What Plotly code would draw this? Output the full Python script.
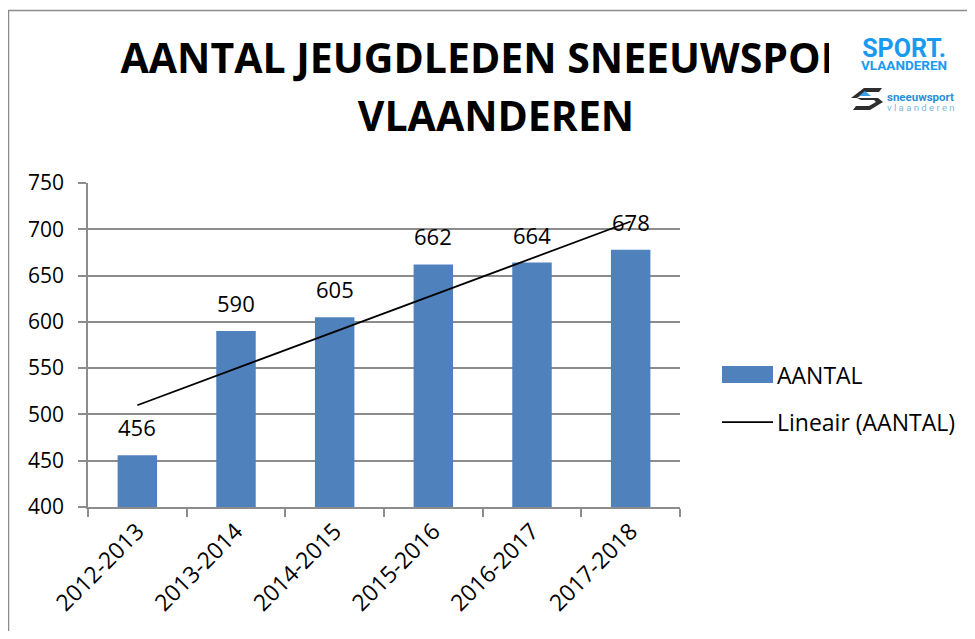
import numpy as np
import plotly.graph_objects as go

categories = ["2012-2013", "2013-2014", "2014-2015", "2015-2016", "2016-2017", "2017-2018"]
aantal = [456, 590, 605, 662, 664, 678]
y_ticks = [400, 450, 500, 550, 600, 650, 700, 750]
title_lines = ["AANTAL JEUGDLEDEN SNEEUWSPORT", "VLAANDEREN"]
legend_labels = ["AANTAL", "Lineair (AANTAL)"]

# page body has an 8px margin; all positions below are in reference-pixel coordinates
OFF = 8
W, H = 959, 623
L, R, T, B = 88, 680, 183, 507
FONT = "Open Sans"
BLUE = "#4F81BD"
GRAY = "#8C8C8C"

def px(x):
    return (x - OFF) / W

def py(y):
    return 1 - (y - OFF) / H

def poly(pts):
    return "M " + " L ".join("%f,%f" % (px(a), py(b)) for a, b in pts) + " Z"

# linear trend (least squares) over category index
xi = np.arange(1, len(aantal) + 1)
slope, intercept = np.polyfit(xi, aantal, 1)
trend = [slope * v + intercept for v in xi]

fig = go.Figure()
fig.add_trace(go.Bar(
    x=categories, y=aantal, marker=dict(color=BLUE, line=dict(width=0)),
    width=0.4, name=legend_labels[0], showlegend=False, hoverinfo="skip",
))
fig.add_trace(go.Scatter(
    x=categories, y=trend, mode="lines", line=dict(color="#000000", width=1.75),
    name=legend_labels[1], showlegend=False, hoverinfo="skip",
))
# title drawn as trace text on a full-page helper subplot (so the logo panel can sit over its end)
fig.add_trace(go.Scatter(
    x=[px(496), px(496)], y=[py(63), py(121)], xaxis="x2", yaxis="y2",
    mode="text", text=title_lines, textposition="middle center", cliponaxis=False,
    textfont=dict(family=FONT, size=41, color="#000000", weight="bold"),
    showlegend=False, hoverinfo="skip",
))

shapes = []
annotations = []

# data labels
for c, v in zip(categories, aantal):
    annotations.append(dict(text=str(v), x=c, y=v, xref="x", yref="y", showarrow=False,
                            xanchor="center", yanchor="bottom", yshift=11,
                            font=dict(family=FONT, size=22, color="#000000")))

# outer frame
shapes.append(dict(type="rect", xref="paper", yref="paper",
                   x0=px(8.5), x1=px(1000), y0=py(700), y1=py(10.5),
                   line=dict(color="#8C8C8C", width=1.5), fillcolor="rgba(0,0,0,0)", layer="below"))

# logo panel (covers end of title)
shapes.append(dict(type="rect", xref="paper", yref="paper", layer="above",
                   x0=px(829), x1=px(966), y0=py(118), y1=py(20),
                   fillcolor="#FFFFFF", line=dict(width=0)))
# snow icon
shapes.append(dict(type="path", xref="paper", yref="paper", layer="above",
                   path=poly([(851, 98), (864, 88), (882, 88), (879, 92), (866, 92), (857, 98)]),
                   fillcolor="#2E2E2E", line=dict(width=0)))
shapes.append(dict(type="path", xref="paper", yref="paper", layer="above",
                   path=poly([(859, 96), (865, 91), (871, 96)]),
                   fillcolor="#3BA0E6", line=dict(width=0)))
shapes.append(dict(type="path", xref="paper", yref="paper", layer="above",
                   path=poly([(857, 98), (878, 98), (883, 102), (876, 102), (874, 100), (861, 100)]),
                   fillcolor="#2E2E2E", line=dict(width=0)))
shapes.append(dict(type="path", xref="paper", yref="paper", layer="above",
                   path=poly([(883, 102), (870, 110), (853, 110), (856, 106), (869, 106), (876, 102)]),
                   fillcolor="#2E2E2E", line=dict(width=0)))

annotations.append(dict(text="<span style='font-size:25px'><b>SPORT.</b></span><br>"
                             "<span style='font-size:13.5px'><b>VLAANDEREN</b></span>",
                        xref="paper", yref="paper", x=px(904), y=py(53),
                        xanchor="center", yanchor="middle", showarrow=False, align="center",
                        font=dict(family="Roboto", size=10, color="#1A9AEF")))
annotations.append(dict(text="<span style='font-size:11.5px'><b>sneeuwsport</b></span><br>"
                             "<span style='font-size:9.5px;color:#7DB7E0'>v l a a n d e r e n</span>",
                        xref="paper", yref="paper", x=px(885), y=py(102),
                        xanchor="left", yanchor="middle", showarrow=False, align="left",
                        font=dict(family="Roboto", size=7.5, color="#2A8FD8")))

# legend
shapes.append(dict(type="rect", xref="paper", yref="paper", x0=px(722), x1=px(773),
                   y0=py(383), y1=py(366), fillcolor=BLUE, line=dict(width=0)))
shapes.append(dict(type="line", xref="paper", yref="paper", x0=px(722), x1=px(773),
                   y0=py(422), y1=py(422), line=dict(color="#000000", width=1.75)))
annotations.append(dict(text=legend_labels[0], xref="paper", yref="paper", x=px(775), y=py(375),
                        xanchor="left", yanchor="middle", showarrow=False,
                        font=dict(family=FONT, size=23, color="#000000")))
annotations.append(dict(text=legend_labels[1], xref="paper", yref="paper", x=px(775), y=py(422),
                        xanchor="left", yanchor="middle", showarrow=False,
                        font=dict(family=FONT, size=23, color="#000000")))

fig.update_layout(
    width=W, height=H,
    margin=dict(l=0, r=0, t=0, b=0, pad=0, autoexpand=False),
    paper_bgcolor="#FFFFFF", plot_bgcolor="rgba(0,0,0,0)",
    showlegend=False, hovermode=False,
    shapes=shapes, annotations=annotations,
    font=dict(family=FONT, size=21, color="#000000"),
    xaxis=dict(type="category", domain=[px(L), px(R)], anchor="y",
               showgrid=False, showline=True, linecolor=GRAY, linewidth=1.5,
               ticks="outside", tickson="boundaries", ticklen=8, tickcolor=GRAY, tickwidth=1.5,
               tickangle=-45, tickfont=dict(family=FONT, size=23, color="#000000"),
               range=[-0.5, 5.5], automargin=False),
    yaxis=dict(range=[400, 750], domain=[py(B), py(T)], anchor="x",
               tickvals=y_ticks, showgrid=True, gridcolor=GRAY, gridwidth=1.5,
               showline=True, linecolor=GRAY, linewidth=1.5, ticks="outside", ticklen=8,
               tickcolor=GRAY, tickwidth=1.5, zeroline=False, ticklabelstandoff=10,
               tickfont=dict(family=FONT, size=21, color="#000000"), automargin=False),
    xaxis2=dict(domain=[0, 1], range=[0, 1], anchor="y2", visible=False, fixedrange=True),
    yaxis2=dict(domain=[0, 1], range=[0, 1], anchor="x2", visible=False, fixedrange=True),
    bargap=0.6,
)

fig.write_html("out.html")
